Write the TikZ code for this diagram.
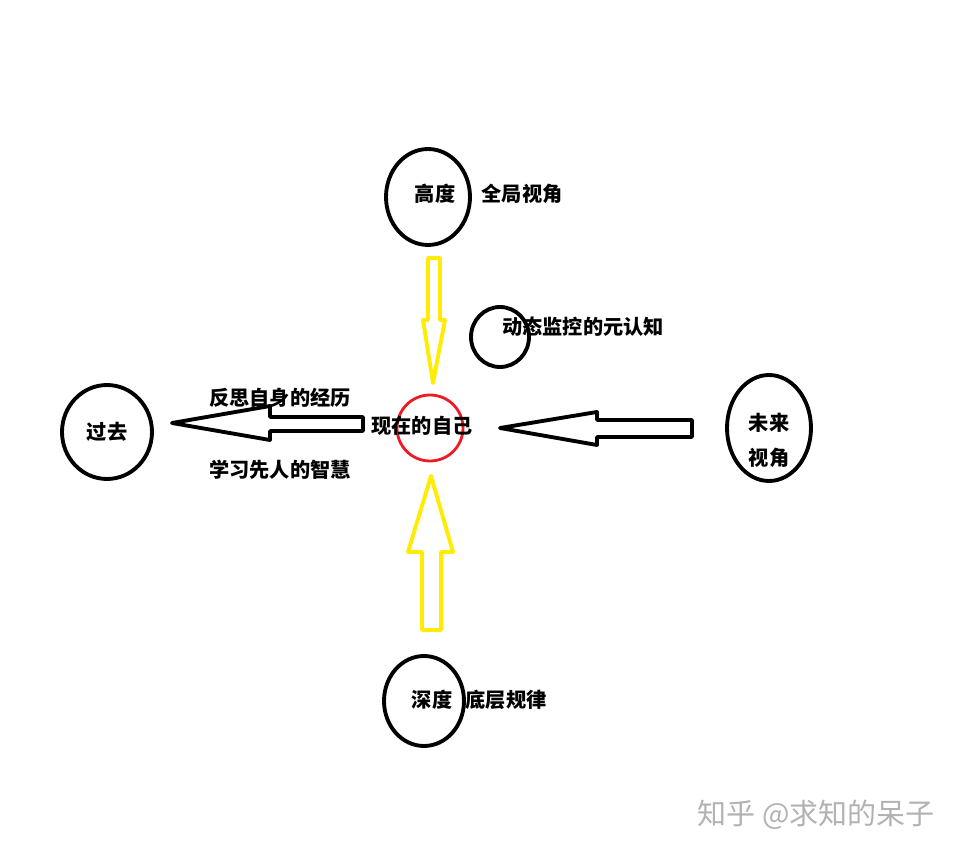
\documentclass[tikz,border=0pt]{standalone}
\usepackage{fontspec}
\newfontfamily\cjk{Noto Sans CJK SC}
\usetikzlibrary{shapes.geometric}
\definecolor{paintyellow}{RGB}{255,236,0}
\definecolor{paintred}{RGB}{237,28,36}

\begin{document}
\begin{tikzpicture}[
  x=0.02cm, y=-0.02cm,
  ring/.style={draw, ellipse, line width=2.2pt, inner sep=0pt},
  lbl/.style={font=\cjk\bfseries\fontsize{11.5}{16}\selectfont, inner sep=0pt, align=center},
  fatarrow/.style={draw, line width=2.2pt, line join=round, fill=white},
  yelarrow/.style={draw=paintyellow, line width=2.2pt, line join=round, fill=white}
]
  \useasboundingbox (0,0) rectangle (960,854);

  % block arrows
  \draw[yelarrow] (428,258) -- (440,258) -- (440,320) -- (445,320) -- (433,383)
    -- (423,320) -- (428,320) -- cycle;
  \draw[yelarrow] (422,630) -- (441,630) -- (441,552) -- (453,552) -- (431,476)
    -- (408,552) -- (422,552) -- cycle;
  \draw[fatarrow] (363,417) -- (270,417) -- (270,406) -- (172,423) -- (270,440)
    -- (270,431) -- (363,431) -- cycle;
  \draw[fatarrow] (692,420) -- (597,420) -- (597,412) -- (500,428) -- (597,445)
    -- (597,437) -- (692,437) -- cycle;

  \node[ring, minimum width=1.68cm, minimum height=1.92cm] (height) at (428,197) {};
  \node[lbl] (heightlbl) at (435,194) {高度};
  \node[lbl] (heightnote) at (522,194) {全局视角};

  \node[ring, minimum width=1.16cm, minimum height=1.2cm] (meta) at (500,337) {};
  \node[lbl] (metalbl) at (583,327) {动态监控的元认知};

  \node[draw=paintred, circle, line width=1.6pt, minimum size=1.32cm] (now) at (430,428) {};
  \node[lbl] (nowlbl) at (422,426) {现在的自己};

  \node[ring, minimum width=1.8cm, minimum height=1.88cm] (past) at (107,432) {};
  \node[lbl] (pastlbl) at (107,432) {过去};
  \node[lbl] (reflect) at (280,398) {反思自身的经历};
  \node[lbl] (learn) at (280,470) {学习先人的智慧};

  \node[ring, minimum width=1.68cm, minimum height=2.12cm] (future) at (769,428) {};
  \node[lbl] (futurelbl) at (769,440) {未来\\[4pt]视角};

  \node[ring, minimum width=1.6cm, minimum height=1.8cm] (depth) at (424,701) {};
  \node[lbl] (depthlbl) at (432,700) {深度};
  \node[lbl] (depthnote) at (506,700) {底层规律};

  \node[font=\cjk\fontsize{16.5}{20}\selectfont, text=black!30, inner sep=0pt] (mark) at (816,815) {知乎 @求知的呆子};
\end{tikzpicture}
\end{document}
